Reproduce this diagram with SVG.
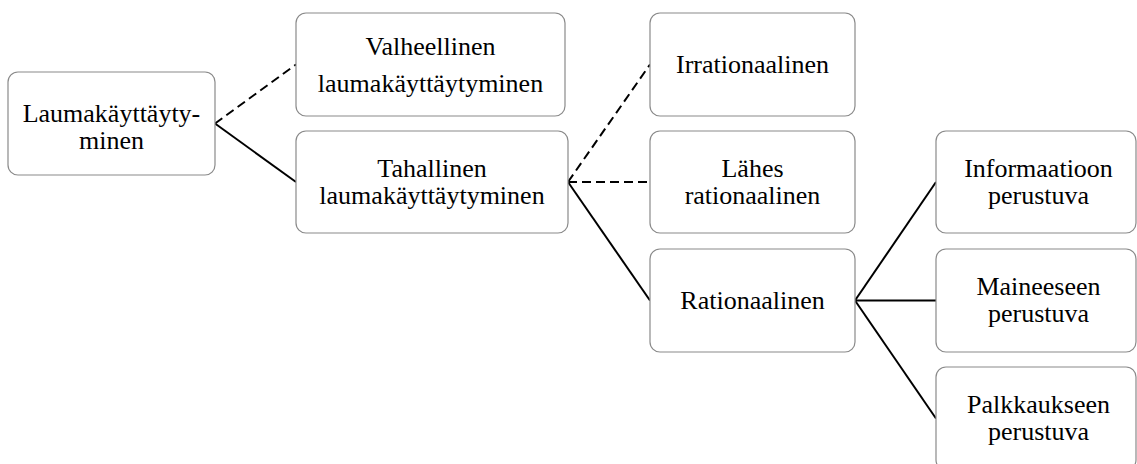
<svg xmlns="http://www.w3.org/2000/svg" width="1137" height="464" viewBox="0 0 1137 464">
<style>
.box{fill:#ffffff;stroke:#8a8a8a;stroke-width:1.2}
text{font-family:'Liberation Serif','Times New Roman','DejaVu Serif',serif;font-size:26px;fill:#000;text-anchor:middle}
.c{stroke:#000;stroke-width:2;fill:none}
.d{stroke-dasharray:9 5}
</style>
<rect width="1137" height="464" fill="#ffffff"/>
<g id="connectors">
<line class="c d" x1="215" y1="123.5" x2="296" y2="64.5"/>
<line class="c" x1="215" y1="123.5" x2="296" y2="182"/>
<line class="c d" x1="568" y1="182" x2="650" y2="64.5"/>
<line class="c d" x1="568" y1="182" x2="650" y2="182"/>
<line class="c" x1="568" y1="182" x2="650" y2="300.5"/>
<line class="c" x1="855" y1="300.5" x2="936" y2="182"/>
<line class="c" x1="855" y1="300.5" x2="936" y2="300.5"/>
<line class="c" x1="855" y1="300.5" x2="936" y2="418.5"/>
</g>
<g id="n-lauma">
<rect class="box" x="8" y="72" width="207" height="103" rx="10"/>
<text x="111.5" y="122">Laumakäyttäyty-</text>
<text x="111.5" y="148.5">minen</text>
</g>
<g id="n-valheellinen">
<rect class="box" x="296" y="13" width="269" height="103" rx="10"/>
<text x="430.5" y="54.5">Valheellinen</text>
<text x="430.5" y="91.5">laumakäyttäytyminen</text>
</g>
<g id="n-tahallinen">
<rect class="box" x="296" y="131" width="272" height="102" rx="10"/>
<text x="432" y="177">Tahallinen</text>
<text x="432" y="204">laumakäyttäytyminen</text>
</g>
<g id="n-irrationaalinen">
<rect class="box" x="650" y="13" width="205" height="103" rx="10"/>
<text x="752.5" y="73">Irrationaalinen</text>
</g>
<g id="n-lahes">
<rect class="box" x="650" y="131" width="205" height="102" rx="10"/>
<text x="752.5" y="177">Lähes</text>
<text x="752.5" y="204">rationaalinen</text>
</g>
<g id="n-rationaalinen">
<rect class="box" x="650" y="249" width="205" height="103" rx="10"/>
<text x="752.5" y="308.5">Rationaalinen</text>
</g>
<g id="n-informaatioon">
<rect class="box" x="936" y="131" width="200" height="102" rx="10"/>
<text x="1038.5" y="177">Informaatioon</text>
<text x="1038.5" y="203.5">perustuva</text>
</g>
<g id="n-maineeseen">
<rect class="box" x="936" y="249" width="200" height="103" rx="10"/>
<text x="1038.5" y="295">Maineeseen</text>
<text x="1038.5" y="322">perustuva</text>
</g>
<g id="n-palkkaukseen">
<rect class="box" x="936" y="367" width="200" height="103" rx="10"/>
<text x="1038.5" y="413">Palkkaukseen</text>
<text x="1038.5" y="440">perustuva</text>
</g>
</svg>
